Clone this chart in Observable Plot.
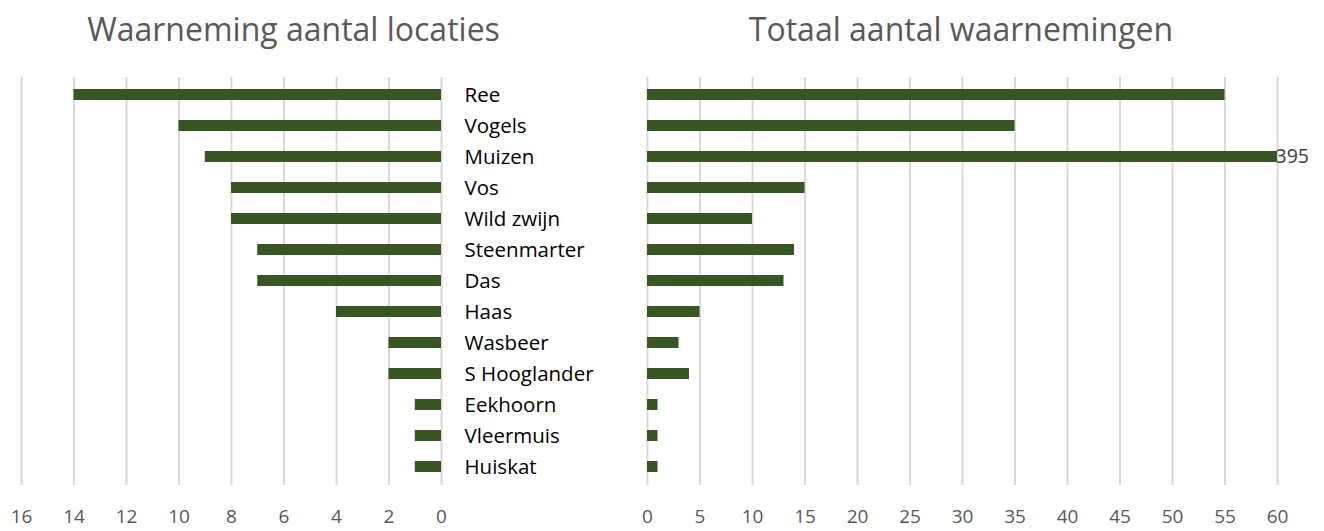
<!DOCTYPE html>
<html><head><meta charset="utf-8">
<script src="https://cdn.jsdelivr.net/npm/d3@7"></script>
<script src="https://cdn.jsdelivr.net/npm/@observablehq/plot@0.6"></script>
<style>
body{margin:0;background:#fff;font-family:"Open Sans",sans-serif;}
#wrap{position:relative;width:1324px;height:531px;overflow:hidden;}
.title{position:absolute;top:13px;font-size:32px;line-height:32px;color:#595959;text-align:center;white-space:nowrap;}
.panel{position:absolute;top:60px;}
</style></head>
<body>
<div id="wrap">
  <div class="panel" id="left" style="left:0px;"></div>
  <div class="panel" id="right" style="left:600px;"></div>
  <div class="title" style="left:0px;width:587px;">Waarneming aantal locaties</div>
  <div class="title" style="left:646px;width:630px;">Totaal aantal waarnemingen</div>
</div>
<script>
const categories = ["Ree","Vogels","Muizen","Vos","Wild zwijn","Steenmarter","Das","Haas","Wasbeer","S Hooglander","Eekhoorn","Vleermuis","Huiskat"];
const locaties = [14,10,9,8,8,7,7,4,2,2,1,1,1];
const waarnemingen = [55,35,395,15,10,14,13,5,3,4,1,1,1];
const leftTicks = [0,2,4,6,8,10,12,14,16];
const rightTicks = [0,5,10,15,20,25,30,35,40,45,50,55,60];

const green = "#375623";
const gridColor = "#d9d9d9";
const H = 471;

const leftData = categories.map((c,i)=>({cat:c, v:locaties[i]}));
const rightData = categories.map((c,i)=>({cat:c, v:waarnemingen[i]}));

const left = Plot.plot({
  width: 660, height: H,
  marginLeft: 21, marginRight: 219, marginTop: 17, marginBottom: 46,
  style: {fontFamily: "Open Sans, sans-serif", background: "#fff"},
  x: {domain: [0,16], reverse: true, ticks: leftTicks},
  y: {domain: categories, paddingInner: 0.63, paddingOuter: 0.3},
  marks: [
    Plot.gridX(leftTicks, {stroke: gridColor, strokeOpacity: 1, strokeWidth: 2}),
    Plot.barX(leftData, {x: "v", y: "cat", fill: green}),
    Plot.axisX(leftTicks, {tickSize: 0, tickPadding: 24, fontSize: 19, fill: "#595959", label: null}),
    Plot.axisY({anchor: "right", tickSize: 0, tickPadding: 23, fontSize: 20.5, fill: "#000", label: null})
  ]
});
document.getElementById("left").appendChild(left);

const right = Plot.plot({
  width: 724, height: H,
  marginLeft: 47, marginRight: 47, marginTop: 17, marginBottom: 46,
  style: {fontFamily: "Open Sans, sans-serif", background: "transparent", overflow: "visible"},
  x: {domain: [0,60], ticks: rightTicks, clamp: true},
  y: {domain: categories, paddingInner: 0.63, paddingOuter: 0.3},
  marks: [
    Plot.gridX(rightTicks, {stroke: gridColor, strokeOpacity: 1, strokeWidth: 2}),
    Plot.barX(rightData, {x: "v", y: "cat", fill: green}),
    Plot.text(rightData.filter(d => d.v > 60), {x: "v", y: "cat", text: d => String(d.v), textAnchor: "start", dx: -2, fontSize: 19.5, fill: "#404040"}),
    Plot.axisX(rightTicks, {tickSize: 0, tickPadding: 24, fontSize: 19, fill: "#595959", label: null}),
    Plot.axisY({ticks: [], label: null})
  ]
});
document.getElementById("right").appendChild(right);
</script>
</body></html>
